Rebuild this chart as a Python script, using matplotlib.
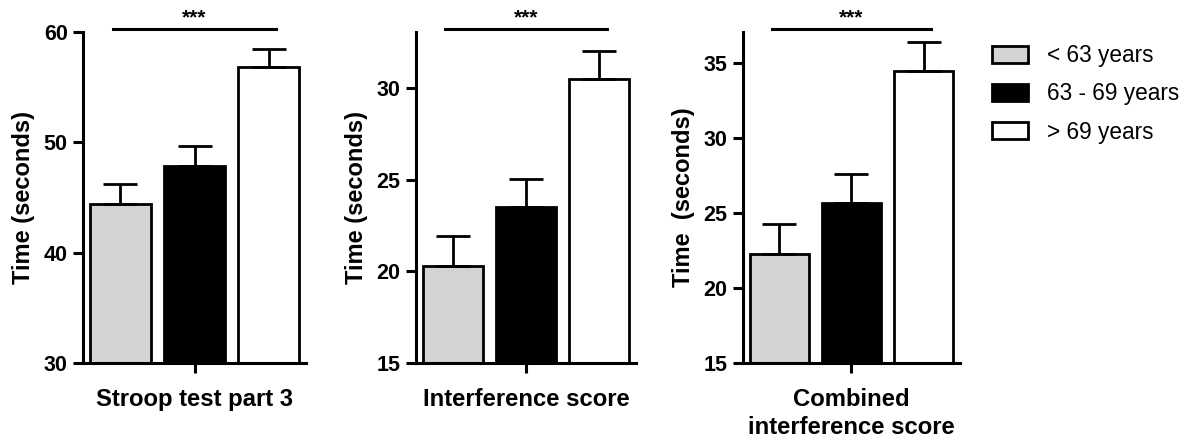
import matplotlib
matplotlib.use("Agg")
from matplotlib import pyplot as plt
from matplotlib.patches import Patch
from matplotlib.transforms import blended_transform_factory

plt.rcParams['font.family'] = ['Liberation Sans', 'DejaVu Sans']

# age groups and colours
groups = ['< 63 years', '63 - 69 years', '> 69 years']
colors = ['#d3d3d3', '#000000', '#ffffff']

# mean times (seconds) and SEM
stroop_mean = [44.4, 47.9, 56.8]
stroop_sem = [1.8, 1.8, 1.7]
interf_mean = [20.3, 23.5, 30.5]
interf_sem = [1.63, 1.54, 1.5]
combined_mean = [22.3, 25.7, 34.5]
combined_sem = [2.0, 1.93, 1.87]

titles = ['Stroop test part 3', 'Interference score', 'Combined\ninterference score']
ylabels = ['Time (seconds)', 'Time (seconds)', 'Time  (seconds)']
ylims = [(30, 60), (15, 33.05), (15, 37.07)]
yticks = [[30, 40, 50, 60], [15, 20, 25, 30], [15, 20, 25, 30, 35]]

W, H = 1196, 443
fig = plt.figure(figsize=(W / 100, H / 100), dpi=100)

# axes boxes in pixels: left, right (top=32, bottom=363)
boxes = [(83, 306), (416, 636), (743, 960)]
top_px, bot_px = 32, 363

means = [stroop_mean, interf_mean, combined_mean]
sems = [stroop_sem, interf_sem, combined_sem]

for i in range(3):
    l, r = boxes[i]
    ax = fig.add_axes([l / W, (H - bot_px) / H, (r - l) / W, (bot_px - top_px) / H])
    x = range(len(groups))
    ax.bar(x, means[i], width=0.82, color=colors, edgecolor='black', linewidth=2, zorder=2)
    ax.errorbar(x, means[i], yerr=[[0] * 3, sems[i]], fmt='none', ecolor='black',
                elinewidth=2, capsize=12, capthick=2, zorder=3)
    ax.set_xlim(-0.5, 2.5)
    ax.set_ylim(*ylims[i])
    ax.set_yticks(yticks[i])
    ax.set_xticks([1])
    ax.set_xticklabels([''])
    for s in ['top', 'right']:
        ax.spines[s].set_visible(False)
    for s in ['left', 'bottom']:
        ax.spines[s].set_linewidth(2.2)
    ax.tick_params(axis='both', direction='out', length=7.5, width=2.2, pad=3.5)
    for t in ax.get_yticklabels():
        t.set_fontsize(15.5)
        t.set_fontweight('bold')
    ax.set_ylabel(ylabels[i], fontsize=17, fontweight='bold', labelpad=6)
    ax.set_xlabel(titles[i], fontsize=17.2, fontweight='bold', labelpad=7,
                  linespacing=1.3)

    # significance bar
    trans = blended_transform_factory(ax.transData, ax.transAxes)
    ax.plot([-0.1, 2.1], [1.009, 1.009], color='black', lw=2.2, transform=trans,
            clip_on=False)
    ax.text(1.0, 1.015, '***', transform=trans, ha='center', va='bottom',
            fontsize=15, fontweight='bold')

handles = [Patch(facecolor=c, edgecolor='black', linewidth=2) for c in colors]
fig.legend(handles, groups, loc='upper left', bbox_to_anchor=(992 / W, 1 - 44 / H),
           frameon=False, fontsize=16.3, handlelength=1.6, handleheight=0.78,
           handletextpad=0.85, labelspacing=0.68, borderpad=0, borderaxespad=0)

fig.savefig('out.png', dpi=100)
